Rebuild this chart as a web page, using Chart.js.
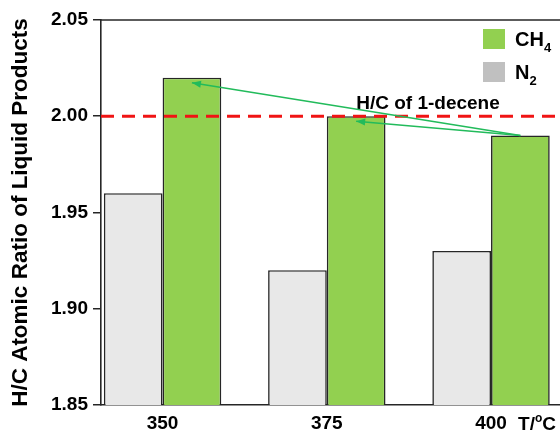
<!DOCTYPE html>
<html>
<head>
<meta charset="utf-8">
<script src="https://cdn.jsdelivr.net/npm/chart.js@4/dist/chart.umd.min.js"></script>
<style>
  html, body { margin: 0; padding: 0; background: #fff; }
  #wrap { width: 560px; height: 430px; }
</style>
</head>
<body>
<div id="wrap"><canvas id="c" width="560" height="430"></canvas></div>
<script>
// Reaction temperature (°C) and H/C atomic ratio of the liquid products
const CATEGORIES = ['350', '375', '400'];
const N2_HC = [1.96, 1.92, 1.93];
const CH4_HC = [2.02, 2.00, 1.99];
const Y_TICKS = [1.85, 1.90, 1.95, 2.00, 2.05];
const DECENE_HC = 2.00;                 // H/C of 1-decene reference line
const SERIES_NAMES = ['N2', 'CH4'];     // digits are drawn as subscripts in the key
const LEGEND_ORDER = [1, 0];            // CH4 first, then N2

const FONT = 'Liberation Sans, Arial, Helvetica, sans-serif';
const INK = '#262626';
const BAR_FILL = ['#e8e8e8', '#92d050'];
const KEY_FILL = ['#c0c0c0', '#92d050'];
const ARROW = '#22bb5b';

Chart.defaults.font.family = FONT;

// draw text where digits after letters become subscripts
function drawChem(ctx, text, x, y, size) {
  let cx = x;
  for (const ch of text) {
    const sub = /[0-9]/.test(ch);
    ctx.font = 'bold ' + (sub ? Math.round(size * 0.65) : size) + 'px ' + FONT;
    ctx.fillText(ch, cx, sub ? y + size * 0.28 : y);
    cx += ctx.measureText(ch).width;
  }
}

const decorations = {
  id: 'decorations',
  afterDatasetsDraw(chart) {
    const { ctx, chartArea: a, scales: { y } } = chart;
    ctx.save();

    // top edge of the plot frame
    ctx.strokeStyle = INK;
    ctx.lineWidth = 1.5;
    ctx.beginPath();
    ctx.moveTo(a.left, a.top);
    ctx.lineTo(a.right, a.top);
    ctx.stroke();

    // 1-decene reference line
    const yRef = y.getPixelForValue(DECENE_HC);
    ctx.strokeStyle = '#f01414';
    ctx.lineWidth = 3;
    ctx.setLineDash([13, 8]);
    ctx.beginPath();
    ctx.moveTo(a.left, yRef);
    ctx.lineTo(a.right, yRef);
    ctx.stroke();
    ctx.setLineDash([]);

    ctx.fillStyle = '#000';
    ctx.font = 'bold 19px ' + FONT;
    ctx.textAlign = 'center';
    ctx.textBaseline = 'alphabetic';
    ctx.fillText('H/C of 1-decene', a.right - 132, yRef - 7);

    // arrows from the 400 °C CH4 bar back to the lower-temperature CH4 bars
    const bars = chart.getDatasetMeta(1).data;
    const from = bars[bars.length - 1];
    ctx.strokeStyle = ARROW;
    ctx.fillStyle = ARROW;
    ctx.lineWidth = 1.5;
    for (let i = 0; i < bars.length - 1; i++) {
      const tx = bars[i].x, ty = bars[i].y + 5;
      const ang = Math.atan2(ty - from.y, tx - from.x);
      ctx.beginPath();
      ctx.moveTo(from.x, from.y);
      ctx.lineTo(tx, ty);
      ctx.stroke();
      const L = 9, W = 3.5;
      ctx.beginPath();
      ctx.moveTo(tx, ty);
      ctx.lineTo(tx - L * Math.cos(ang) + W * Math.sin(ang), ty - L * Math.sin(ang) - W * Math.cos(ang));
      ctx.lineTo(tx - L * Math.cos(ang) - W * Math.sin(ang), ty - L * Math.sin(ang) + W * Math.cos(ang));
      ctx.closePath();
      ctx.fill();
    }

    // key
    ctx.textAlign = 'left';
    ctx.textBaseline = 'alphabetic';
    LEGEND_ORDER.forEach((d, k) => {
      const bx = a.right - 77, by = a.top + 9 + k * 33;
      ctx.fillStyle = KEY_FILL[d];
      ctx.fillRect(bx, by, 22, 20);
      ctx.fillStyle = '#000';
      drawChem(ctx, chart.data.datasets[d].label, bx + 32, by + 17, 20);
    });
    ctx.restore();
  },
  afterDraw(chart) {
    const { ctx, scales: { x } } = chart;
    const px = x.getPixelForValue(CATEGORIES.length - 1) + 27;
    const py = x.top + 25;
    ctx.save();
    ctx.fillStyle = '#000';
    ctx.textAlign = 'left';
    ctx.textBaseline = 'alphabetic';
    ctx.font = 'bold 19px ' + FONT;
    ctx.fillText('T/', px, py);
    let cx = px + ctx.measureText('T/').width;
    ctx.font = 'bold 12px ' + FONT;
    ctx.fillText('o', cx, py - 8);
    cx += ctx.measureText('o').width;
    ctx.font = 'bold 19px ' + FONT;
    ctx.fillText('C', cx, py);
    ctx.restore();
  }
};

const tickFont = { family: FONT, size: 19, weight: 'bold' };

new Chart(document.getElementById('c'), {
  type: 'bar',
  data: {
    datasets: [N2_HC, CH4_HC].map((vals, d) => ({
      label: SERIES_NAMES[d],
      data: vals.map((v, i) => ({ x: i, y: v })),
      backgroundColor: BAR_FILL[d],
      borderColor: INK,
      borderWidth: 1.6,
      categoryPercentage: 0.715,
      barPercentage: 1.0
    }))
  },
  options: {
    responsive: false,
    animation: false,
    devicePixelRatio: 1,
    layout: { padding: { top: 20, left: 0, right: 0, bottom: 0 } },
    plugins: { legend: { display: false }, tooltip: { enabled: false } },
    scales: {
      x: {
        type: 'linear',
        min: -0.375,
        max: 2.42,
        offset: false,
        afterBuildTicks: s => { s.ticks = CATEGORIES.map((_, i) => ({ value: i })); },
        afterFit: s => { s.height = 25; },
        grid: { display: false, drawTicks: false },
        border: { display: true, color: INK, width: 1.6 },
        ticks: {
          callback: v => CATEGORIES[v],
          font: tickFont, color: '#000', padding: 7,
          maxRotation: 0, autoSkip: false
        }
      },
      y: {
        min: 1.85,
        max: 2.05,
        afterBuildTicks: s => { s.ticks = Y_TICKS.map(v => ({ value: v })); },
        afterFit: s => { s.width = 101; },
        grid: { display: true, drawOnChartArea: false, drawTicks: true, tickLength: 8, color: INK, lineWidth: 1.5 },
        border: { display: true, color: INK, width: 1.6 },
        ticks: { callback: v => v.toFixed(2), font: tickFont, color: '#000', padding: 5 },
        title: {
          display: true,
          text: 'H/C Atomic Ratio of Liquid Products',
          font: { family: FONT, size: 22.5, weight: 'bold' },
          color: '#000',
          padding: { top: 7, bottom: 0 }
        }
      }
    }
  },
  plugins: [decorations]
});
</script>
</body>
</html>
